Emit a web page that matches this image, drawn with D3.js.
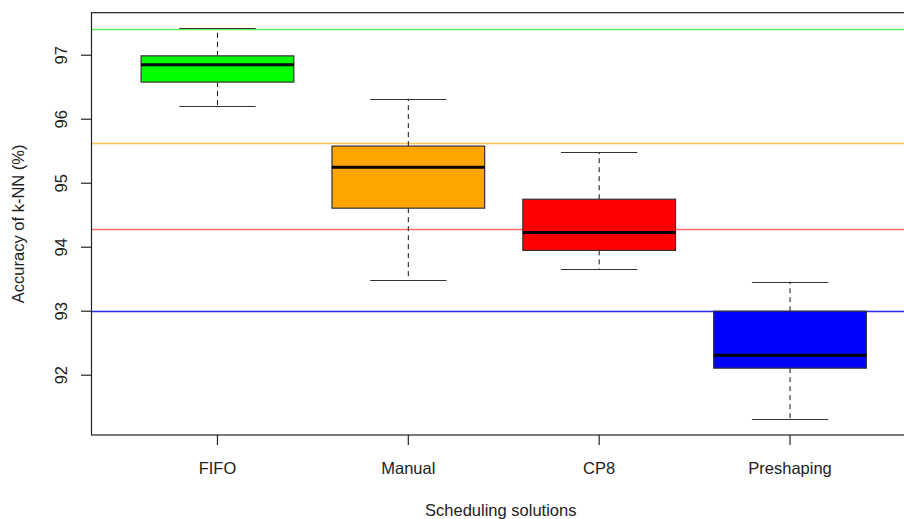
<!DOCTYPE html>
<html>
<head>
<meta charset="utf-8">
<script src="https://cdn.jsdelivr.net/npm/d3@7"></script>
<style>
  html, body { margin: 0; padding: 0; background: #fff; }
  svg { display: block; }
  text { font-family: "Liberation Sans", Arial, sans-serif; fill: #222; }
</style>
</head>
<body>
<svg id="chart" width="904" height="519"></svg>
<script>
const categories = ["FIFO", "Manual", "CP8", "Preshaping"];
const whiskerLow  = [96.20, 93.48, 93.66, 91.31];
const q1          = [96.58, 94.61, 93.95, 92.11];
const median      = [96.85, 95.25, 94.23, 92.31];
const q3          = [96.99, 95.58, 94.75, 93.00];
const whiskerHigh = [97.42, 96.32, 95.48, 93.46];
const boxColors   = ["#00ff00", "#ffa500", "#ff0000", "#0000ff"];
const refValues   = [97.41, 95.63, 94.28, 93.00];
const refColors   = ["#5ef05e", "#ffc552", "#ff6e6e", "#2a2aff"];
const yTicks      = [92, 93, 94, 95, 96, 97];
const xTitle = "Scheduling solutions";
const yTitle = "Accuracy of k-NN (%)";

const svg = d3.select("#chart");
const mLeft = 91.5, mRight = 916, mTop = 12.7, mBottom = 435;

// R-style 4% axis extension
const dMin = d3.min(whiskerLow), dMax = d3.max(whiskerHigh);
const ext = (dMax - dMin) * 0.04;
const y = d3.scaleLinear().domain([dMin - ext, dMax + ext]).range([mBottom, mTop]);
const n = categories.length;
const xExt = n * 0.04;
const x = d3.scaleLinear().domain([0.5 - xExt, n + 0.5 + xExt]).range([mLeft, mRight]);

const boxW = (x(2) - x(1)) * 0.8;
const capW = boxW * 0.5;
const snap = v => Math.round(v) + 0.5;

// reference lines
svg.append("g").selectAll("line").data(refValues).join("line")
  .attr("x1", mLeft).attr("x2", mRight)
  .attr("y1", d => snap(y(d))).attr("y2", d => snap(y(d)))
  .attr("stroke", (d, i) => refColors[i]).attr("stroke-width", 1.4);

const g = svg.append("g");
categories.forEach((c, i) => {
  const cx = x(i + 1);
  g.append("line").attr("x1", cx).attr("x2", cx)
    .attr("y1", y(q3[i])).attr("y2", y(whiskerHigh[i]))
    .attr("stroke", "#111").attr("stroke-dasharray", "5,4").attr("stroke-width", 1);
  g.append("line").attr("x1", cx).attr("x2", cx)
    .attr("y1", y(q1[i])).attr("y2", y(whiskerLow[i]))
    .attr("stroke", "#111").attr("stroke-dasharray", "5,4").attr("stroke-width", 1);
  [whiskerLow[i], whiskerHigh[i]].forEach(v => {
    g.append("line").attr("x1", cx - capW / 2).attr("x2", cx + capW / 2)
      .attr("y1", snap(y(v))).attr("y2", snap(y(v)))
      .attr("stroke", "#333").attr("stroke-width", 1.2);
  });
  g.append("rect").attr("x", cx - boxW / 2).attr("width", boxW)
    .attr("y", y(q3[i])).attr("height", y(q1[i]) - y(q3[i]))
    .attr("fill", boxColors[i]).attr("stroke", "#333").attr("stroke-width", 1.2);
  g.append("line").attr("x1", cx - boxW / 2).attr("x2", cx + boxW / 2)
    .attr("y1", y(median[i])).attr("y2", y(median[i]))
    .attr("stroke", "#000").attr("stroke-width", 3);
});

// frame
svg.append("rect").attr("x", mLeft).attr("y", mTop)
  .attr("width", mRight - mLeft).attr("height", mBottom - mTop)
  .attr("fill", "none").attr("stroke", "#222").attr("stroke-width", 1.2);

// y axis
const yAxis = svg.append("g");
yTicks.forEach(t => {
  yAxis.append("line").attr("x1", mLeft - 10.5).attr("x2", mLeft)
    .attr("y1", y(t)).attr("y2", y(t)).attr("stroke", "#222").attr("stroke-width", 1.2);
  yAxis.append("text").attr("transform", `translate(67,${y(t)}) rotate(-90)`)
    .attr("text-anchor", "middle").attr("font-size", 16.5).text(t);
});

// x axis
const xAxis = svg.append("g");
categories.forEach((c, i) => {
  const cx = x(i + 1);
  xAxis.append("line").attr("x1", cx).attr("x2", cx)
    .attr("y1", mBottom).attr("y2", mBottom + 10).attr("stroke", "#222").attr("stroke-width", 1.2);
  xAxis.append("text").attr("x", cx).attr("y", 474)
    .attr("text-anchor", "middle").attr("font-size", 16.5).text(c);
});

svg.append("text").attr("x", (mLeft + mRight) / 2 - 3).attr("y", 516)
  .attr("text-anchor", "middle").attr("font-size", 16.5).text(xTitle);
svg.append("text").attr("transform", `translate(24,${(mTop + mBottom) / 2}) rotate(-90)`)
  .attr("text-anchor", "middle").attr("font-size", 16.5).text(yTitle);
</script>
</body>
</html>
